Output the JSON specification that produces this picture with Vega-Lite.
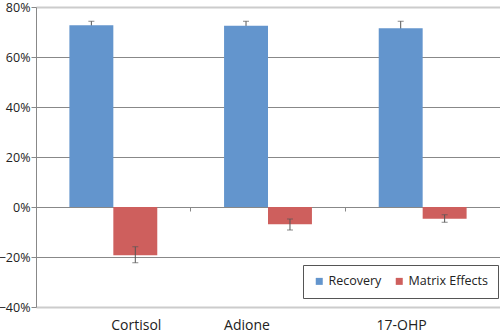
{
  "$schema": "https://vega.github.io/schema/vega-lite/v6.json",
  "width": 464,
  "height": 300,
  "autosize": "none",
  "padding": {"left": 36, "top": 7, "right": 0, "bottom": 27},
  "background": "white",
  "config": {
    "view": {"stroke": null},
    "font": "Open Sans",
    "axis": {"labelFont": "Open Sans", "labelColor": "#222", "labelFontSize": 12.5}
  },
  "data": {
    "values": [
      {"compound": "Cortisol", "series": "Recovery", "value": 0.727, "lo": 0.711, "hi": 0.743},
      {"compound": "Adione", "series": "Recovery", "value": 0.725, "lo": 0.707, "hi": 0.743},
      {"compound": "17-OHP", "series": "Recovery", "value": 0.715, "lo": 0.687, "hi": 0.743},
      {"compound": "Cortisol", "series": "Matrix Effects", "value": -0.193, "lo": -0.223, "hi": -0.159},
      {"compound": "Adione", "series": "Matrix Effects", "value": -0.069, "lo": -0.092, "hi": -0.048},
      {"compound": "17-OHP", "series": "Matrix Effects", "value": -0.047, "lo": -0.061, "hi": -0.031}
    ]
  },
  "encoding": {
    "x": {
      "field": "compound", "type": "nominal",
      "sort": ["Cortisol", "Adione", "17-OHP"],
      "scale": {"paddingInner": 0, "paddingOuter": 0},
      "axis": {
        "title": null, "orient": "bottom", "offset": -100, "domain": false,
        "ticks": true, "bandPosition": 0, "tickSize": 4, "tickColor": "#888",
        "labelPadding": 107, "labelAngle": 0,
        "labelOffset": {"condition": {"test": "datum.value === 'Cortisol'", "value": 23}, "value": -21},
        "labelFontSize": 14
      }
    },
    "xOffset": {
      "field": "series", "type": "nominal",
      "sort": ["Recovery", "Matrix Effects"],
      "scale": {"paddingInner": 0, "paddingOuter": 0.76}
    }
  },
  "layer": [
    {
      "transform": [{"filter": "datum.series === 'Recovery'"}],
      "mark": {"type": "rule", "color": "#555", "strokeWidth": 1},
      "encoding": {
        "y": {"field": "lo", "type": "quantitative", "scale": {"domain": [-0.4, 0.8]}},
        "y2": {"field": "hi"}
      }
    },
    {
      "transform": [{"filter": "datum.series === 'Recovery'"}],
      "mark": {"type": "tick", "orient": "horizontal", "color": "#555", "size": 6, "thickness": 1},
      "encoding": {"y": {"field": "hi", "type": "quantitative"}}
    },
    {
      "mark": {"type": "bar"},
      "encoding": {
        "y": {
          "field": "value", "type": "quantitative",
          "scale": {"domain": [-0.4, 0.8], "nice": false},
          "axis": {
            "title": null, "values": [-0.4, -0.2, 0, 0.2, 0.4, 0.6, 0.8], "format": ".0%",
            "tickSize": 5, "tickColor": "#888", "domainColor": "#888", "labelPadding": 1,
            "gridColor": {"condition": {"test": "datum.value === 0.8 || datum.value === -0.4", "value": "#cccccc"}, "value": "#888888"},
            "gridWidth": {"condition": {"test": "datum.value === 0.8 || datum.value === -0.4", "value": 2}, "value": 1}
          }
        },
        "color": {
          "field": "series", "type": "nominal",
          "sort": ["Recovery", "Matrix Effects"],
          "scale": {"domain": ["Recovery", "Matrix Effects"], "range": ["#6395CD", "#CE5F5D"]},
          "legend": {
            "title": null, "orient": "none", "direction": "horizontal",
            "legendX": 267, "legendY": 258,
            "strokeColor": "#555", "padding": 10, "fillColor": "white",
            "symbolType": "square", "symbolSize": 49, "symbolStrokeWidth": 0,
            "labelFontSize": 12.5, "labelFont": "Open Sans", "labelColor": "#222",
            "columnPadding": 11, "labelOffset": 3
          }
        }
      }
    },
    {
      "transform": [{"filter": "datum.series === 'Matrix Effects'"}],
      "mark": {"type": "rule", "color": "#555", "strokeWidth": 1},
      "encoding": {
        "y": {"field": "lo", "type": "quantitative"},
        "y2": {"field": "hi"}
      }
    },
    {
      "transform": [{"filter": "datum.series === 'Matrix Effects'"}, {"fold": ["lo", "hi"], "as": ["end", "v"]}],
      "mark": {"type": "tick", "orient": "horizontal", "color": "#555", "size": 6, "thickness": 1},
      "encoding": {"y": {"field": "v", "type": "quantitative"}}
    }
  ]
}
